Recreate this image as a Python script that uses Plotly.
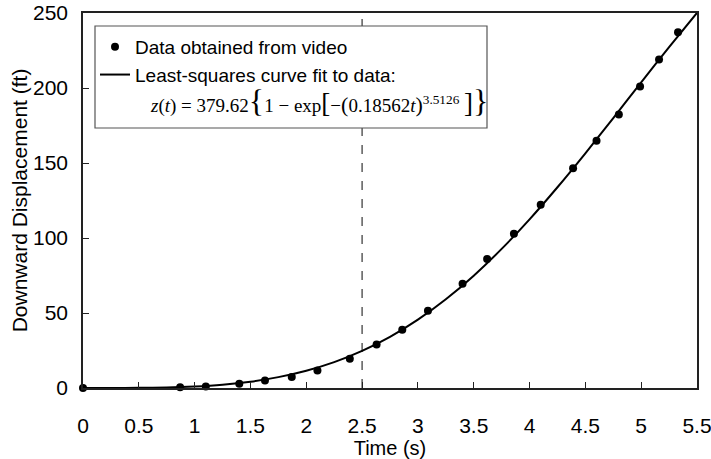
import plotly.graph_objects as go

time_s = [0, 0.87, 1.10, 1.40, 1.63, 1.87, 2.10, 2.39, 2.63, 2.86, 3.09,
          3.40, 3.62, 3.86, 4.10, 4.39, 4.60, 4.80, 4.99, 5.16, 5.33]
disp_ft = [0, 0.5, 1.0, 2.8, 5.0, 7.3, 11.7, 19.5, 29.0, 38.8, 51.5,
           69.5, 86.0, 102.8, 122.1, 146.5, 164.8, 182.3, 201.0, 219.0, 237.2]

# Fitted curve values, sampled every 0.25 s
fit_t = [0, 0.25, 0.5, 0.75, 1.0, 1.25, 1.5, 1.75, 2.0, 2.25, 2.5, 2.75,
         3.0, 3.25, 3.5, 3.75, 4.0, 4.25, 4.5, 4.75, 5.0, 5.25, 5.5]
fit_z = [0, 0.01, 0.09, 0.37, 1.02, 2.23, 4.23, 7.24, 11.51, 17.27, 24.75,
         34.13, 45.58, 59.17, 74.91, 92.73, 112.46, 133.85, 156.49, 179.96,
         203.73, 227.31, 250.11]

x_ticks = [0, 0.5, 1, 1.5, 2, 2.5, 3, 3.5, 4, 4.5, 5, 5.5]
x_tick_labels = ["0", "0.5", "1", "1.5", "2", "2.5", "3", "3.5", "4", "4.5", "5", "5.5"]
y_ticks = [0, 50, 100, 150, 200, 250]

marker_time = 2.5

FONT = "Liberation Sans, Arial, sans-serif"
SERIF = "Liberation Serif, Times New Roman, serif"

# plot area in page px: x 83..697, y 13..388
PW, PH = 614, 375
def px(xp):
    return (xp - 83) / PW
def py(yp):
    return (388 - yp) / PH

fig = go.Figure()
fig.add_trace(go.Scatter(
    x=time_s, y=disp_ft, mode="markers", name="Data obtained from video",
    marker=dict(color="black", size=8), cliponaxis=False))
fig.add_trace(go.Scatter(
    x=fit_t, y=fit_z, mode="lines", name="Least-squares curve fit to data:",
    line=dict(color="black", width=2, shape="spline", smoothing=0.6)))

fig.add_shape(type="line", xref="x", yref="paper", x0=marker_time, x1=marker_time,
              y0=0, y1=1, line=dict(color="#333", width=1.2, dash="dash"), layer="below")

# legend frame
fig.add_shape(type="rect", xref="paper", yref="paper",
              x0=px(95), x1=px(487), y0=py(128), y1=py(26),
              line=dict(color="#555", width=1.2), fillcolor="white", layer="above")

big = "<span style='font-size:32px'>{}</span>"
mid = "<span style='font-size:27px'>{}</span>"
sml = "<span style='font-size:22px'>{}</span>"
formula = ("<i>z</i>(<i>t</i>) = 379.62" + big.format("{") + "1 − exp"
           + mid.format("[") + "−" + sml.format("(") + "0.18562<i>t</i>"
           + sml.format(")") + "<sup>3.5126</sup> " + mid.format("]") + big.format("}"))
fig.add_annotation(xref="paper", yref="paper", x=px(148), y=py(101),
                   xanchor="left", yanchor="middle", showarrow=False, text=formula,
                   font=dict(family=SERIF, size=19, color="black"))

fig.update_layout(
    width=711, height=459,
    margin=dict(l=83, r=14, t=13, b=71),
    paper_bgcolor="white", plot_bgcolor="white",
    font=dict(family=FONT, size=20, color="black"),
    showlegend=True,
    legend=dict(x=px(95), y=py(28), xanchor="left", yanchor="top",
                bgcolor="rgba(0,0,0,0)", borderwidth=0,
                font=dict(family=FONT, size=19, color="black"),
                tracegroupgap=0, itemwidth=30),
    xaxis=dict(range=[0, 5.5], tickvals=x_ticks, ticktext=x_tick_labels,
               ticks="inside", ticklen=6, tickcolor="#222",
               showline=True, linecolor="#222", linewidth=1.5, mirror=True,
               showgrid=False, zeroline=False, automargin=False,
               ticklabelstandoff=18, ticklabeloverflow="allow",
               title=dict(text="Time (s)", font=dict(size=20), standoff=0),
               tickfont=dict(size=21)),
    yaxis=dict(range=[0, 250], tickvals=y_ticks,
               ticks="inside", ticklen=6, tickcolor="#222",
               showline=True, linecolor="#222", linewidth=1.5, mirror=True,
               showgrid=False, zeroline=False, automargin=False,
               ticklabelstandoff=9, ticklabeloverflow="allow",
               title=dict(text="Downward Displacement (ft)", font=dict(size=21), standoff=0),
               tickfont=dict(size=21)),
)

fig.write_html("out.html", config={"displayModeBar": False},
               post_script="document.body.style.margin='0';document.body.style.overflow='hidden';")
